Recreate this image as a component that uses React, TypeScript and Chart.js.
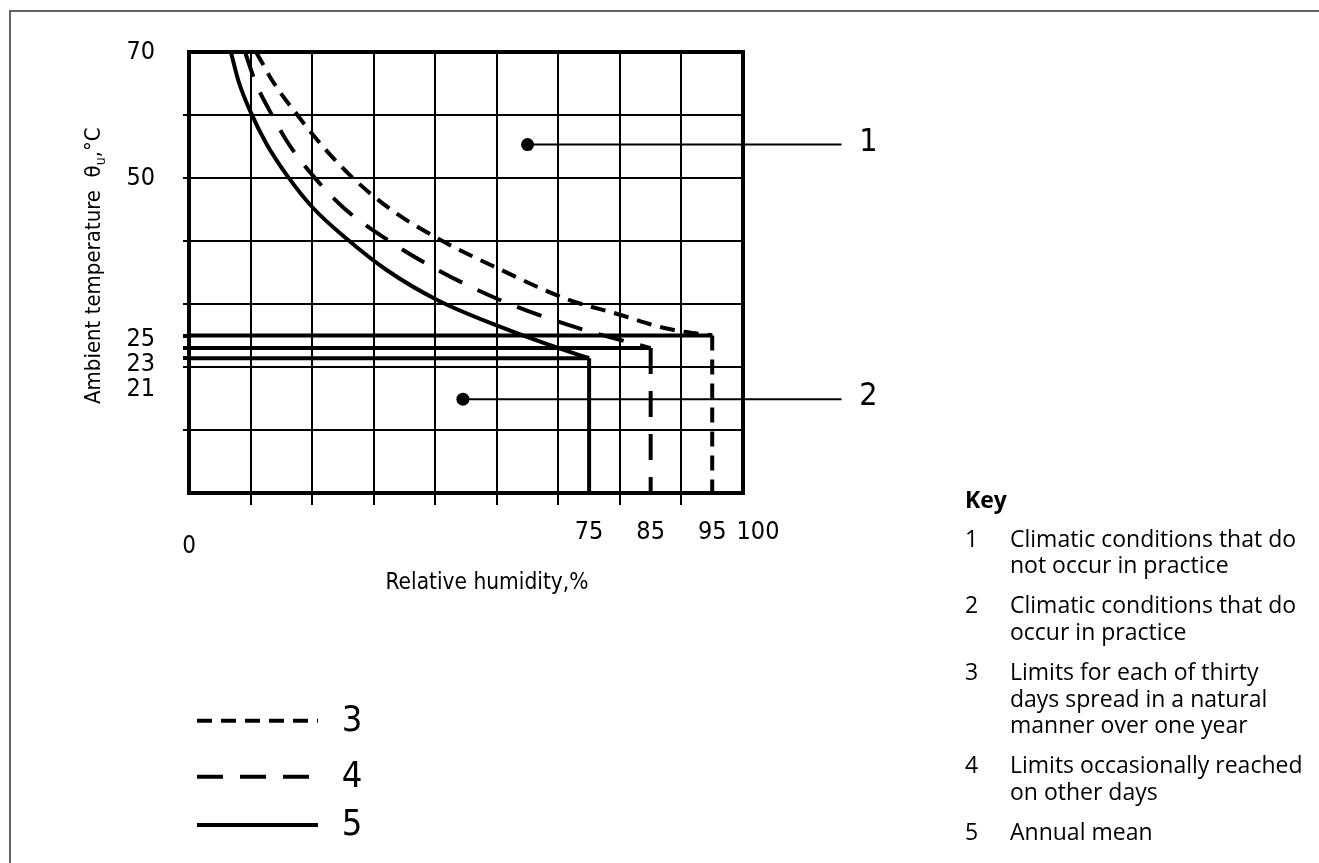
import React, { useEffect, useRef } from "react";
import { Chart, registerables } from "chart.js";

Chart.register(...registerables);

// ---------------- data ----------------
const humidityGrid = [10, 20, 30, 40, 50, 60, 70, 80, 90, 100];
const humidityTickLabels = [75, 85, 95];
const humidityEndLabel = 100;
const humidityZeroLabel = "0";
const temperatureGrid = [0, 10, 20, 30, 40, 50, 60, 70];
const temperatureTickLabels = [70, 50];
const limitTempLabels = ["25", "23", "21"];

const seriesNames = ["3", "4", "5"];
const limitHumidity = [95, 85, 75];
const limitTemperature = [25, 23, 21.4];

const curve3Humidity = [20.9, 23.7, 27.2, 31.4, 36.3, 42.5, 50.8, 60.3, 71.3, 80, 87.6, 95];
const curve3Temperature = [70, 65.2, 60.5, 55.4, 50.3, 45.2, 40.2, 35.6, 30.8, 28.3, 26.1, 25];

const curve4Humidity = [19.1, 20.8, 23.2, 26.2, 30.2, 35.2, 42.2, 50.4, 60.6, 72.5, 85];
const curve4Temperature = [70, 65.2, 60.5, 55.4, 50.3, 45.2, 40.2, 35.4, 30.6, 26.4, 23];

const curve5Humidity = [16.8, 18.1, 20, 22.6, 26, 30.2, 35.8, 42.1, 50.4, 60.5, 70.3, 75];
const curve5Temperature = [70, 65.2, 60.5, 55.4, 50.3, 45.2, 40.2, 35.4, 30.6, 26.4, 22.9, 21.4];

const regionNames = ["1", "2"];
const regionDotHumidity = [65, 54.5];
const regionDotTemperature = [55.3, 14.9];
const leaderEndHumidity = 116;

const keyTitle = "Key";
const keyNumbers = ["1", "2", "3", "4", "5"];
const keyTexts = [
  ["Climatic conditions that do", "not occur in practice"],
  ["Climatic conditions that do", "occur in practice"],
  ["Limits for each of thirty", "days spread in a natural", "manner over one year"],
  ["Limits occasionally reached", "on other days"],
  ["Annual mean"],
];

const xTitle = "Relative humidity,%";
const yTitleMain = "Ambient temperature  θ";
const yTitleSub = "u";
const yTitleEnd = ",°C";

// ---------------- styles ----------------
const DIN = '"DejaVu Sans Condensed", "Liberation Sans Narrow", "DejaVu Sans", sans-serif';
const NARROW = '"Liberation Sans Narrow", "DejaVu Sans Condensed", sans-serif';
const HUMANIST = '"Open Sans", "Noto Sans", sans-serif';
const dashPatterns = [[15, 9], [26, 17], []];

const W = 1319;
const H = 863;
const AREA = { left: 189, top: 52, right: 743, bottom: 493 };
const TICK_FONT = 25;
const X_TICK_LEN = 12;
const X_TICK_PAD = 12;

function pts(xs: number[], ys: number[]) {
  return xs.map((x, i) => ({ x, y: ys[i] }));
}

const curveHumidity = [curve3Humidity, curve4Humidity, curve5Humidity];
const curveTemperature = [curve3Temperature, curve4Temperature, curve5Temperature];

function buildDatasets() {
  const ds: any[] = [];
  seriesNames.forEach((name, i) => {
    ds.push({
      label: name,
      data: pts(curveHumidity[i], curveTemperature[i]),
      borderColor: "#000",
      borderWidth: 4,
      borderDash: dashPatterns[i],
      pointRadius: 0,
      cubicInterpolationMode: "monotone",
      fill: false,
      clip: false,
    });
    ds.push({
      label: name + "-h",
      data: pts([humidityGrid[0], limitHumidity[i]], [limitTemperature[i], limitTemperature[i]]),
      borderColor: "#000",
      borderWidth: 4,
      pointRadius: 0,
      fill: false,
    });
    ds.push({
      label: name + "-v",
      data: pts([limitHumidity[i], limitHumidity[i]], [limitTemperature[i], temperatureGrid[0]]),
      borderColor: "#000",
      borderWidth: 4,
      borderDash: dashPatterns[i],
      pointRadius: 0,
      fill: false,
    });
  });
  regionNames.forEach((name, j) => {
    ds.push({
      label: "region-" + name,
      data: pts([regionDotHumidity[j], leaderEndHumidity], [regionDotTemperature[j], regionDotTemperature[j]]),
      borderColor: "#000",
      borderWidth: 2,
      pointRadius: [6.5, 0],
      pointBackgroundColor: "#000",
      pointBorderWidth: 0,
      fill: false,
      clip: false,
    });
  });
  return ds;
}

const overlayPlugin = {
  id: "overlay",
  beforeDraw(chart: any) {
    const { ctx } = chart;
    ctx.save();
    ctx.strokeStyle = "#646464";
    ctx.lineWidth = 2;
    ctx.beginPath();
    ctx.moveTo(9, 11);
    ctx.lineTo(W, 11);
    ctx.moveTo(10, 10);
    ctx.lineTo(10, H);
    ctx.stroke();
    ctx.restore();
  },
  beforeDatasetsDraw(chart: any) {
    const { ctx, chartArea: a } = chart;
    ctx.save();
    ctx.strokeStyle = "#000";
    ctx.lineWidth = 4;
    ctx.strokeRect(a.left, a.top, a.right - a.left, a.bottom - a.top);
    ctx.restore();
  },
  afterDraw(chart: any) {
    const { ctx, chartArea: a } = chart;
    const x = chart.scales.x;
    const y = chart.scales.y;
    ctx.save();
    ctx.fillStyle = "#000";

    // stacked limit-temperature labels
    ctx.font = `${TICK_FONT}px ${NARROW}`;
    ctx.textAlign = "right";
    ctx.textBaseline = "middle";
    const y0 = y.getPixelForValue(limitTemperature[0]) + 3.5;
    limitTempLabels.forEach((t, i) => ctx.fillText(t, a.left - 34, y0 + i * 25));

    // "100" label, set slightly right of the frame edge
    ctx.textAlign = "center";
    const tickY = a.bottom + X_TICK_LEN + X_TICK_PAD + (TICK_FONT * 1.2) / 2;
    ctx.fillText(String(humidityEndLabel), x.getPixelForValue(humidityEndLabel) + 15, tickY);

    // "0" label under left edge
    ctx.font = `24px ${NARROW}`;
    ctx.fillText(humidityZeroLabel, x.getPixelForValue(humidityGrid[0]), a.bottom + 54);

    // x title
    ctx.font = `22.5px ${DIN}`;
    ctx.fillText(xTitle, 487, a.bottom + 90);

    // y title (rotated, with subscript)
    ctx.save();
    ctx.translate(100, 404);
    ctx.rotate(-Math.PI / 2);
    ctx.textAlign = "left";
    ctx.textBaseline = "alphabetic";
    ctx.font = `22px ${DIN}`;
    ctx.fillText(yTitleMain, 0, 0);
    let w = ctx.measureText(yTitleMain).width;
    ctx.font = `14px ${DIN}`;
    ctx.fillText(yTitleSub, w, 5);
    w += ctx.measureText(yTitleSub).width;
    ctx.font = `22px ${DIN}`;
    ctx.fillText(yTitleEnd, w, 0);
    ctx.restore();

    // region callout numbers
    ctx.font = `32px ${NARROW}`;
    ctx.textAlign = "center";
    ctx.textBaseline = "middle";
    regionNames.forEach((n, j) => {
      ctx.fillText(n, x.getPixelForValue(leaderEndHumidity) + 27, y.getPixelForValue(regionDotTemperature[j]) - 2);
    });

    // line-style legend
    const legendY = [720.7, 776.7, 825];
    seriesNames.forEach((n, i) => {
      const ds = chart.data.datasets.find((d: any) => d.label === n);
      ctx.save();
      ctx.strokeStyle = ds.borderColor;
      ctx.lineWidth = ds.borderWidth;
      ctx.setLineDash(ds.borderDash || []);
      ctx.beginPath();
      ctx.moveTo(197, legendY[i]);
      ctx.lineTo(318, legendY[i]);
      ctx.stroke();
      ctx.restore();
      ctx.font = `36px ${NARROW}`;
      ctx.textAlign = "center";
      ctx.textBaseline = "middle";
      ctx.fillText(n, 352, legendY[i] + 1);
    });

    // key
    ctx.textAlign = "left";
    ctx.textBaseline = "alphabetic";
    ctx.font = `bold 23px ${HUMANIST}`;
    ctx.fillText(keyTitle, 965, 508);
    ctx.font = `23px ${HUMANIST}`;
    let base = 546.7;
    keyNumbers.forEach((n, i) => {
      ctx.fillText(n, 965, base);
      keyTexts[i].forEach((line, k) => {
        ctx.fillText(line, 1010, base + k * 26.6);
      });
      base += (keyTexts[i].length - 1) * 26.6 + 40;
    });

    ctx.restore();
  },
};

export default function App() {
  const ref = useRef<HTMLCanvasElement | null>(null);
  useEffect(() => {
    if (!ref.current) return;
    const chart = new Chart(ref.current, {
      type: "line",
      data: { datasets: buildDatasets() },
      options: {
        animation: false,
        responsive: false,
        devicePixelRatio: 1,
        layout: { padding: { left: 0, top: AREA.top, right: W - AREA.right, bottom: 0 } },
        plugins: { legend: { display: false }, tooltip: { enabled: false } },
        elements: { line: { borderCapStyle: "butt", borderJoinStyle: "miter" } },
        scales: {
          x: {
            type: "linear",
            min: humidityGrid[0],
            max: humidityGrid[humidityGrid.length - 1],
            afterBuildTicks: (s: any) => {
              s.ticks = [...humidityGrid, ...limitHumidity].sort((p, q) => p - q).map((v) => ({ value: v }));
            },
            afterFit: (s: any) => {
              s.height = H - AREA.bottom;
            },
            border: { display: false },
            grid: {
              color: "#000",
              tickColor: "#000",
              lineWidth: (c: any) => (limitHumidity.includes(c.tick?.value) ? 0 : 2),
              tickWidth: (c: any) => {
                const v = c.tick?.value;
                if (limitHumidity.includes(v)) return 0;
                if (v === humidityGrid[0] || v === humidityGrid[humidityGrid.length - 1]) return 0;
                return 2;
              },
              tickLength: X_TICK_LEN,
            },
            ticks: {
              autoSkip: false,
              maxRotation: 0,
              padding: X_TICK_PAD,
              color: "#000",
              font: { family: NARROW, size: TICK_FONT, lineHeight: 1.2 },
              callback: (v: any) => (humidityTickLabels.includes(v) ? String(v) : ""),
            },
          },
          y: {
            type: "linear",
            min: temperatureGrid[0],
            max: temperatureGrid[temperatureGrid.length - 1],
            afterBuildTicks: (s: any) => {
              s.ticks = [...temperatureGrid, ...limitTemperature].sort((p, q) => p - q).map((v) => ({ value: v }));
            },
            afterFit: (s: any) => {
              s.width = AREA.left;
            },
            border: { display: false },
            grid: {
              color: "#000",
              tickColor: "#000",
              lineWidth: (c: any) => (limitTemperature.includes(c.tick?.value) ? 0 : 2),
              tickWidth: (c: any) => {
                const v = c.tick?.value;
                if (limitTemperature.includes(v)) return 4;
                if (v === temperatureGrid[0] || v === temperatureGrid[temperatureGrid.length - 1]) return 0;
                return 2;
              },
              tickLength: 6,
            },
            ticks: {
              autoSkip: false,
              padding: 28,
              color: "#000",
              font: { family: NARROW, size: TICK_FONT },
              callback: (v: any) => (temperatureTickLabels.includes(v) ? String(v) : ""),
            },
          },
        },
      },
      plugins: [overlayPlugin],
    });
    return () => chart.destroy();
  }, []);

  return (
    <canvas
      ref={ref}
      width={W}
      height={H}
      style={{ position: "absolute", left: 0, top: 0, width: W, height: H }}
    />
  );
}
